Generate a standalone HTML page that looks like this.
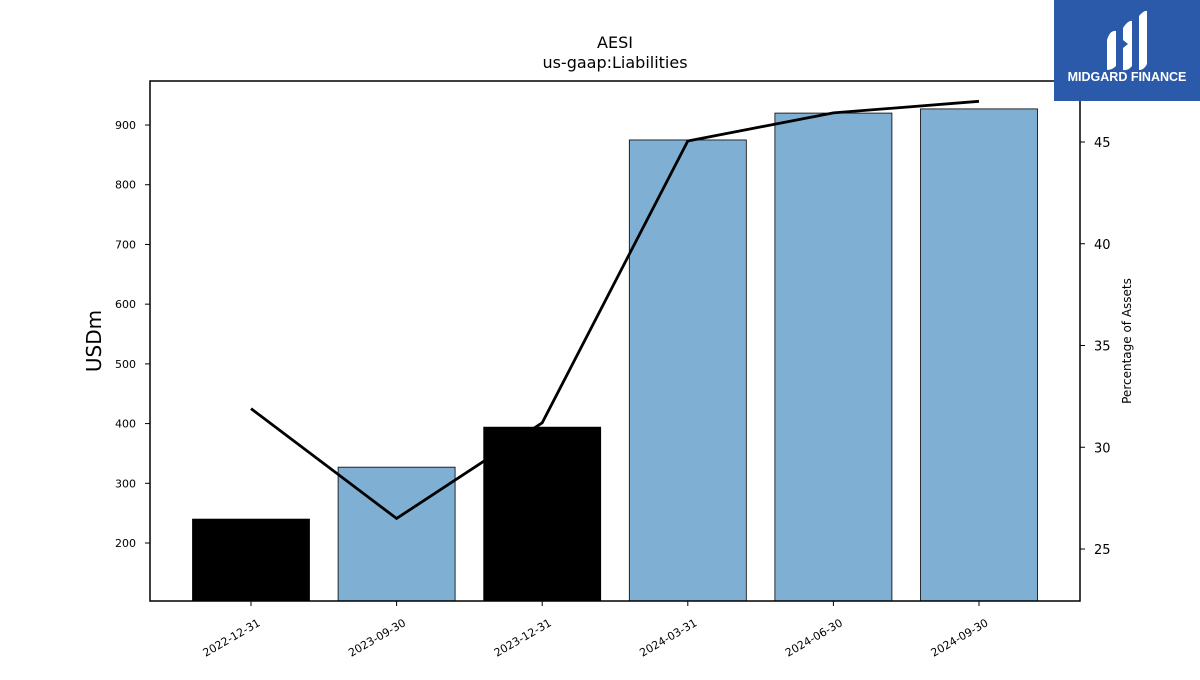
<!DOCTYPE html>
<html><head><meta charset="utf-8"><style>
body{margin:0;background:#fff;width:1200px;height:675px;overflow:hidden;font-family:"Liberation Sans","DejaVu Sans",sans-serif}
</style></head><body>
<svg id="chart" width="1200" height="675" xmlns="http://www.w3.org/2000/svg" font-family="DejaVu Sans, Liberation Sans, sans-serif">
<text x="615" y="48" text-anchor="middle" font-size="16">AESI</text>
<text x="615" y="68" text-anchor="middle" font-size="16">us-gaap:Liabilities</text>
<g id="bars"></g><g id="line"></g>
<rect x="150" y="81" width="930" height="520" fill="none" stroke="#000" stroke-width="1.5"/>
<g id="axes"></g>
<text transform="translate(101,341) rotate(-90)" text-anchor="middle" font-size="20">USDm</text>
<text transform="translate(1131,341) rotate(-90)" text-anchor="middle" font-size="12">Percentage of Assets</text>
<g>
<rect x="1054" y="0" width="146" height="101" fill="#2c5aab"/>
<path d="M1107 40 Q1110 30 1116 31 L1116 66 Q1112 70 1107 70 Z" fill="#fff"/>
<path d="M1123 28 Q1128 20 1132 21 L1132 66 Q1128 71 1123 70 L1123 48 L1128 44 L1123 40 Z" fill="#fff"/>
<path d="M1139 16 Q1144 10 1147 11 L1147 64 Q1144 70 1139 70 Z" fill="#fff"/>
<text x="1127" y="81" text-anchor="middle" font-size="12.5" font-weight="bold" fill="#fff" font-family="Liberation Sans, sans-serif">MIDGARD FINANCE</text>
</g>
</svg>
<script>
const categories=["2022-12-31","2023-09-30","2023-12-31","2024-03-31","2024-06-30","2024-09-30"];
const liabilities=[240,327,394,875,920,927];
const pctAssets=[31.9,26.5,31.2,45.05,46.43,47.0];
const barColors=["#000000","#7fb0d3","#000000","#7fb0d3","#7fb0d3","#7fb0d3"];
const leftTicks=[200,300,400,500,600,700,800,900];
const rightTicks=[25,30,35,40,45];
const NS="http://www.w3.org/2000/svg";
const L=150,R=1080,T=81,B=601;
const yL=v=>543-(v-200)*0.5971;
const yR=v=>549-(v-25)*20.35;
const step=(R-L)/categories.length*0.939;
const xC=i=>251+i*145.6;
function mk(t,a,p){const e=document.createElementNS(NS,t);for(const k in a)e.setAttribute(k,a[k]);p.appendChild(e);return e;}
const bars=document.getElementById('bars'),axes=document.getElementById('axes'),line=document.getElementById('line');
liabilities.forEach((v,i)=>{
 const r=mk('rect',{x:xC(i)-58.5,y:yL(v),width:117,height:B-yL(v),fill:barColors[i],stroke:'#000','stroke-width':0.8},bars);
 
 
 mk('line',{x1:xC(i),x2:xC(i),y1:B,y2:B+5,stroke:'#000'},axes);
 const t=mk('text',{transform:`translate(${xC(i)+10},${B+24}) rotate(-30)`,'text-anchor':'end','font-size':11},axes);
 t.textContent=categories[i];
 
 
});
leftTicks.forEach(v=>{
 mk('line',{x1:L-5,x2:L,y1:yL(v),y2:yL(v),stroke:'#000'},axes);
 const t=mk('text',{x:L-14,y:yL(v)+4,'text-anchor':'end','font-size':11},axes);
 t.textContent=v;
 
 
});
rightTicks.forEach(v=>{
 mk('line',{x1:R,x2:R+5,y1:yR(v),y2:yR(v),stroke:'#000'},axes);
 const t=mk('text',{x:R+14,y:yR(v)+5,'font-size':13},axes);
 t.textContent=v;
 
 
});
const p=mk('polyline',{points:pctAssets.map((v,i)=>xC(i)+','+yR(v)).join(' '),fill:'none',stroke:'#000','stroke-width':2.8},line);


</script>
</body></html>
